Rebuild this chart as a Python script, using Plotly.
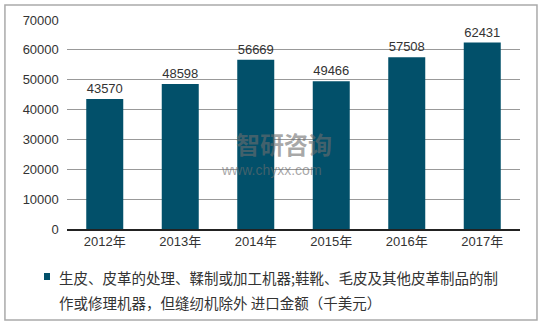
import plotly.graph_objects as go

years = ["2012年", "2013年", "2014年", "2015年", "2016年", "2017年"]
values = [43570, 48598, 56669, 49466, 57508, 62431]
legend_line1 = "生皮、皮革的处理、鞣制或加工机器;鞋靴、毛皮及其他皮革制品的制"
legend_line2 = "作或修理机器，但缝纫机除外 进口金额（千美元）"

FONT = "Liberation Sans, Arial, Noto Sans CJK SC, sans-serif"
BAR = "#02506A"

fig = go.Figure()
fig.add_trace(go.Bar(
    x=years, y=values, name=legend_line1 + legend_line2,
    marker=dict(color=BAR, line=dict(width=0)),
    width=0.49,
    text=[str(v) for v in values], textposition="outside",
    textfont=dict(size=13, color="#333333", family=FONT),
    cliponaxis=False,
    showlegend=False,
))

fig.update_layout(
    width=543, height=326,
    margin=dict(l=67, r=23, t=20, b=97),
    paper_bgcolor="white", plot_bgcolor="white",
    font=dict(family=FONT, size=13, color="#333333"),
    xaxis=dict(showline=True, linecolor="#222222", linewidth=1.5, ticks="",
               tickfont=dict(size=13, color="#333333")),
    yaxis=dict(range=[0, 70000], dtick=10000, showgrid=True, gridcolor="#999999",
               gridwidth=1, zeroline=False, ticks="", tickformat="d",
               tickfont=dict(size=13, color="#333333"), ticksuffix="  "),
    shapes=[
        dict(type="rect", xref="paper", yref="paper",
             x0=-0.137, x1=1.0375, y0=-0.435, y1=1.0718,
             line=dict(color="#AAAAAA", width=1.5)),
        dict(type="rect", xref="paper", yref="paper",
             x0=-0.0508, x1=-0.0375, y0=-0.244, y1=-0.2105,
             fillcolor=BAR, line=dict(width=0)),
    ],
    annotations=[
        dict(text=legend_line1, xref="paper", yref="paper", x=-0.022, y=-0.2297,
             xanchor="left", yanchor="middle", showarrow=False,
             font=dict(size=14.5, color="#333333", family="Noto Sans CJK SC")),
        dict(text=legend_line2, xref="paper", yref="paper", x=-0.022, y=-0.354,
             xanchor="left", yanchor="middle", showarrow=False,
             font=dict(size=14.5, color="#333333", family="Noto Sans CJK SC")),
        dict(text="<b>智研咨询</b>", xref="paper", yref="paper", x=0.479, y=0.41,
             showarrow=False, font=dict(size=24, color="rgba(110,110,110,0.6)", family="Noto Sans CJK SC")),
        dict(text="www.chyxx.com", xref="paper", yref="paper", x=0.452, y=0.235,
             showarrow=False, font=dict(size=14, color="rgba(110,110,110,0.6)", family=FONT)),
    ],
)

fig.write_html("out.html")
